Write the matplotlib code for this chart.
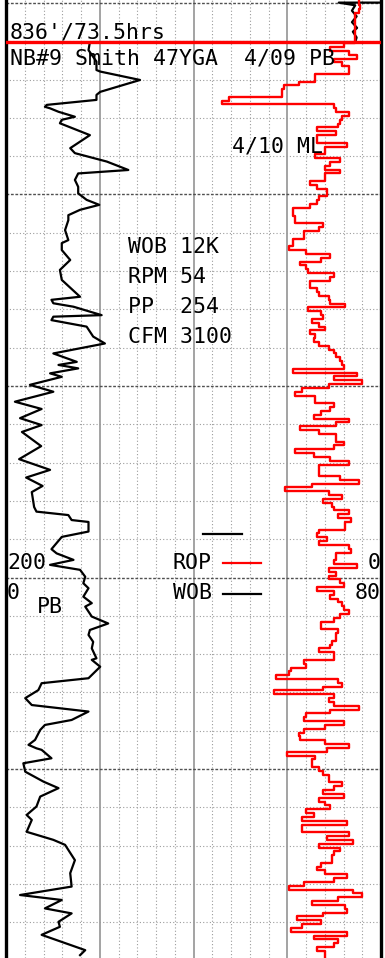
import matplotlib
matplotlib.use("Agg")
import matplotlib.pyplot as plt
import numpy as np

# WOB trace: weight on bit (klb) against depth (ft below top of section)
wob_depth = [-0.1, -0.1, 0.6, 2.0, 3.5, 5.0, 6.5, 7.5, 9.0, 10.2, 10.2,
             12.3, 15.3, 17.5, 17.9, 20.1, 23.2, 24.0, 25.3, 26.6, 27.1, 27.5, 28.4, 29.7, 30.5, 31.4,
             34.5, 37.9, 39.2, 41.4, 43.6, 44.5, 46.2, 48.0, 49.7, 51.4, 52.7, 54.0, 55.4, 56.7, 59.3,
             61.9, 62.7, 64.5, 67.1, 69.7, 72.3, 76.7, 77.5, 78.4, 79.3, 81.5, 81.9, 82.8, 84.5, 87.1,
             88.9, 91.5, 93.7, 94.5, 95.4, 96.7, 97.6, 99.7, 101.5, 104.1, 106.0, 108.4, 110.2, 112.0,
             115.7, 119.1, 121.9, 123.9, 126.1, 127.7, 131.6, 132.8, 133.7, 135.0, 135.5, 138.0, 139.4,
             142.6, 143.7, 145.4, 146.7, 148.0, 149.8, 151.5, 152.8, 155.0, 156.7, 157.6, 160.2, 162.0,
             163.7, 165.0, 166.8, 168.5, 171.1, 171.5, 173.3, 176.3, 177.6, 179.4, 181.5, 183.3, 185.0,
             187.2, 188.5, 189.8, 192.4, 193.7, 194.6, 195.0, 197.2, 198.5, 200.7, 203.3, 205.0, 207.2,
             209.8, 212.0, 213.3, 216.4, 218.5, 219.8, 223.8, 227.2, 230.7, 232.9, 234.2, 236.4, 237.7,
             239.9, 241.2, 243.3, 247.3, 248.6]
wob_klb = [79.8, 71.0, 74.5, 73.8, 74.8, 73.8, 74.9, 74.0, 74.8, 74.5, 17.9,
           17.6, 19.3, 19.3, 20.1, 28.6, 20.1, 19.3, 19.3, 8.7, 8.3, 9.4, 11.2, 14.7, 11.9, 11.5,
           17.9, 13.7, 14.7, 21.5, 26.1, 15.4, 14.7, 15.4, 15.4, 17.2, 19.9, 15.8, 13.3, 13.3, 12.6,
           13.3, 11.9, 11.9, 13.7, 11.5, 11.9, 15.8, 9.7, 10.1, 14.4, 20.4, 10.1, 9.7, 17.2, 18.6,
           21.1, 10.1, 15.1, 11.2, 15.4, 9.4, 11.9, 5.1, 10.1, 1.9, 7.6, 3.0, 7.6, 3.4,
           7.5, 2.8, 9.4, 4.3, 7.8, 5.5, 6.0, 6.5, 13.3, 14.0, 17.6, 17.6, 11.9,
           9.7, 10.8, 14.4, 9.4, 15.8, 16.9, 16.5, 17.6, 16.5, 18.3, 16.9, 18.3, 21.8,
           17.9, 17.6, 18.6, 18.3, 19.3, 18.3, 20.1, 17.6, 7.6, 6.9, 4.1, 5.5, 17.6,
           14.0, 8.3, 7.3, 6.2, 4.8, 6.5, 7.6, 9.7, 3.7, 4.1, 8.0, 11.2, 7.3,
           6.5, 4.4, 5.5, 4.4, 10.1, 12.6, 14.7, 13.7, 14.0, 3.0, 11.9, 8.3, 14.0,
           11.2, 11.5, 7.6, 16.9, 15.8]

# ROP (ft/hr), one reading per foot starting at rop_start_ft
rop_start_ft = -0.5
rop_fph = [12, 11, 12, 14, 14, 14, 14, 14, 14, 14, 14,
           20, 27, 17, 13, 25, 21, 17, 17, 35, 35, 44, 52, 53, 53, 81, 85, 25, 24, 17, 21,
           22, 23, 34, 24, 34, 34, 18, 30, 30, 35, 22, 27, 30, 22, 30, 30, 38, 34, 29, 29,
           33, 34, 38, 47, 47, 46, 46, 31, 33, 41, 41, 47, 47, 49, 40, 27, 32, 43, 40, 39,
           25, 27, 38, 38, 34, 33, 28, 27, 19, 39, 32, 31, 37, 33, 30, 38, 35, 36, 33, 28,
           25, 24, 22, 21, 20, 47, 13, 25, 10, 28, 42, 46, 35, 35, 25, 27, 32, 36, 17, 24,
           43, 33, 24, 24, 20, 25, 46, 36, 27, 17, 33, 33, 33, 22, 12, 37, 51, 28, 21, 31,
           26, 25, 17, 23, 16, 19, 19, 33, 34, 29, 33, 17, 16, 24, 24, 25, 13, 28, 24, 28,
           22, 20, 34, 25, 27, 23, 21, 20, 17, 22, 25, 32, 32, 23, 24, 24, 26, 27, 33, 25,
           25, 41, 40, 48, 49, 56, 23, 21, 31, 57, 25, 28, 25, 12, 27, 40, 41, 20, 30, 41,
           44, 43, 30, 17, 29, 50, 35, 37, 37, 33, 31, 28, 28, 21, 25, 31, 20, 33, 30, 27,
           40, 36, 42, 18, 42, 42, 17, 29, 15, 33, 22, 25, 26, 26, 32, 34, 30, 18, 25, 41,
           49, 15, 10, 23, 37, 19, 18, 31, 45, 32, 42, 48, 18, 36, 23, 25, 34, 30, 30]

bit_depth_ft = 10.2

W, H = 385, 958
fig = plt.figure(figsize=(W / 100, H / 100), dpi=100)
ax = fig.add_axes([6 / W, 0, 375 / W, 1])
ax.set_xlim(0, 80)
ax.set_ylim((H - 3) / 3.83, -3 / 3.83)

# grid: 20 divisions across, heavy every 5; 10 ft minor, 50 ft major
for v in np.arange(4, 80, 4):
    if v % 20 == 0:
        ax.axvline(v, color="#8a8a8a", lw=1.1, zorder=1)
    else:
        ax.axvline(v, color="#9c9c9c", lw=0.8, ls=(0, (1, 2)), zorder=1)
for d in np.arange(0, 250, 10):
    if d % 50 == 0:
        ax.axhline(d, color="#505050", lw=1.0, ls=(0, (2, 1.2)), zorder=1)
    else:
        ax.axhline(d, color="#9c9c9c", lw=0.8, ls=(0, (1, 2)), zorder=1)

ax.plot(wob_klb, wob_depth, color="black", lw=1.6, zorder=4)

# ROP on its own reversed scale, drawn as one-foot steps
ax2 = ax.twiny()
ax2.set_xlim(200, 0)
tops = rop_start_ft + np.arange(len(rop_fph))
xs = np.repeat(rop_fph, 2)
ys = np.column_stack([tops, tops + 1]).ravel()
ax2.plot(xs, ys, color="red", lw=1.7, zorder=3)

ax.axhline(bit_depth_ft, color="red", lw=2.4, zorder=5)

for a in (ax, ax2):
    a.set_xticks([])
    a.set_yticks([])
    for side in ("top", "bottom"):
        a.spines[side].set_visible(False)
    for side in ("left", "right"):
        a.spines[side].set_linewidth(2.4)
ax2.spines["left"].set_visible(False)
ax2.spines["right"].set_visible(False)

font = dict(family="DejaVu Sans Mono", size=15.5, color="black")


def label(x, y, s, ha="left"):
    fig.text(x / W, 1 - y / H, s, ha=ha, va="baseline", zorder=6, **font)


label(10, 38, "836'/73.5hrs")
label(10, 65, "NB#9 Smith 47YGA  4/09 PB")
label(232, 153, "4/10 ML")
label(128, 253, "WOB 12K")
label(128, 283, "RPM 54")
label(128, 313, "PP  254")
label(128, 343, "CFM 3100")

label(7, 569, "200")
label(173, 569, "ROP")
label(381, 569, "0", ha="right")
label(7, 599, "0")
label(173, 599, "WOB")
label(381, 599, "80", ha="right")
label(37, 613, "PB")

for (x0, x1, y, c) in [(203, 242, 534, "black"), (223, 261, 563, "red"), (223, 261, 594, "black")]:
    fig.add_artist(plt.Line2D([x0 / W, x1 / W], [1 - y / H, 1 - y / H], color=c, lw=1.6,
                              transform=fig.transFigure))

fig.savefig("out.png", dpi=100)
